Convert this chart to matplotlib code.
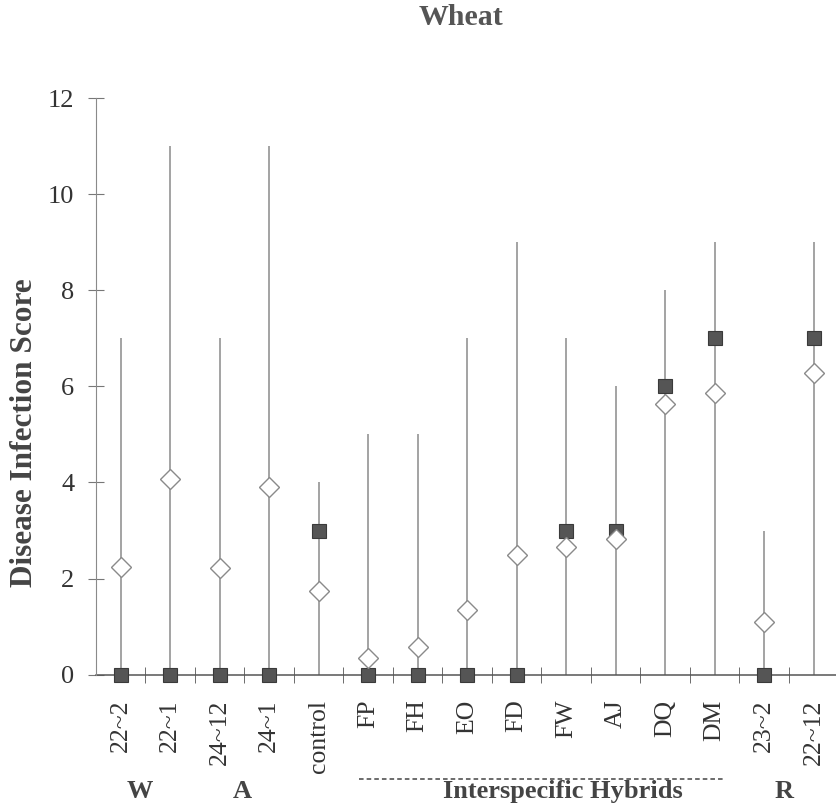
import matplotlib.pyplot as plt
import numpy as np

plt.rcParams['font.family'] = ['Liberation Serif', 'DejaVu Serif']

# data
lines = ['22~2', '22~1', '24~12', '24~1', 'control', 'FP', 'FH', 'EO', 'FD',
         'FW', 'AJ', 'DQ', 'DM', '23~2', '22~12']
score_min = [0, 0, 0, 0, 0, 0, 0, 0, 0, 0, 0, 0, 0, 0, 0]
score_max = [7, 11, 7, 11, 4, 5, 5, 7, 9, 7, 6, 8, 9, 3, 9]
score_mean = [2.25, 4.07, 2.23, 3.9, 1.75, 0.35, 0.58, 1.35, 2.5, 2.65,
              2.82, 5.63, 5.87, 1.1, 6.27]
score_median = [0, 0, 0, 0, 3, 0, 0, 0, 0, 3, 3, 6, 7, 0, 7]

x = np.arange(len(lines))

fig = plt.figure(figsize=(8.37, 8.10), dpi=100)
ax = fig.add_axes([0.1147, 0.167, 0.887, 0.712])

ax.vlines(x, score_min, score_max, color='#8a8a8a', lw=1.1, zorder=1)
ax.plot(x, score_median, 's', ms=10.5, color='#555555', mec='#3a3a3a', mew=0.8,
        zorder=3, clip_on=False)
ax.plot(x, score_mean, 'D', ms=10, mfc='white', mec='#8a8a8a', mew=1.0,
        zorder=4, clip_on=False)

ax.set_xlim(-0.5, len(lines) - 0.5)
ax.set_ylim(0, 12)
ax.set_yticks(np.arange(0, 13, 2))
ax.set_xticks(x)
ax.set_xticklabels(lines, rotation=90, fontsize=18.5, color='#333333')
ax.set_xticks(x[:-1] + 0.5, minor=True)
ax.tick_params(axis='x', which='major', length=0, pad=18)
ax.tick_params(axis='x', which='minor', direction='inout', length=11.5, color='#555555')
ax.tick_params(axis='y', direction='inout', length=11.5, color='#777777',
               labelsize=19, labelcolor='#333333', pad=10)

for s in ['top', 'right']:
    ax.spines[s].set_visible(False)
ax.spines['left'].set_color('#8a8a8a')
ax.spines['bottom'].set_color('#555555')
ax.spines['bottom'].set_linewidth(1.1)
ax.spines['bottom'].set_zorder(2)

ax.set_ylabel('Disease Infection Score', fontsize=22.5, fontweight='bold',
              color='#444444')
ax.yaxis.set_label_coords(-0.077, 0.42)
fig.text(0.551, 0.979, 'Wheat', ha='center', va='center', fontsize=21.5,
         fontweight='bold', color='#555555')

# group labels under the axis
grp_y = -0.203
tr = ax.get_xaxis_transform()
ax.text(0.38, grp_y, 'W', transform=tr, ha='center', va='center', fontsize=19,
        fontweight='bold', color='#444444')
ax.text(2.45, grp_y, 'A', transform=tr, ha='center', va='center', fontsize=19,
        fontweight='bold', color='#444444')
ax.text(8.94, grp_y, 'Interspecific Hybrids', transform=tr, ha='center', va='center',
        fontsize=19, fontweight='bold', color='#444444')
ax.text(13.4, grp_y, 'R', transform=tr, ha='center', va='center', fontsize=19,
        fontweight='bold', color='#444444')
ax.plot([4.81, 12.21], [-0.180, -0.180], transform=tr, ls=(0, (3, 2)),
        color='#444444', lw=1.1, clip_on=False)

fig.savefig('out.png', dpi=100)
